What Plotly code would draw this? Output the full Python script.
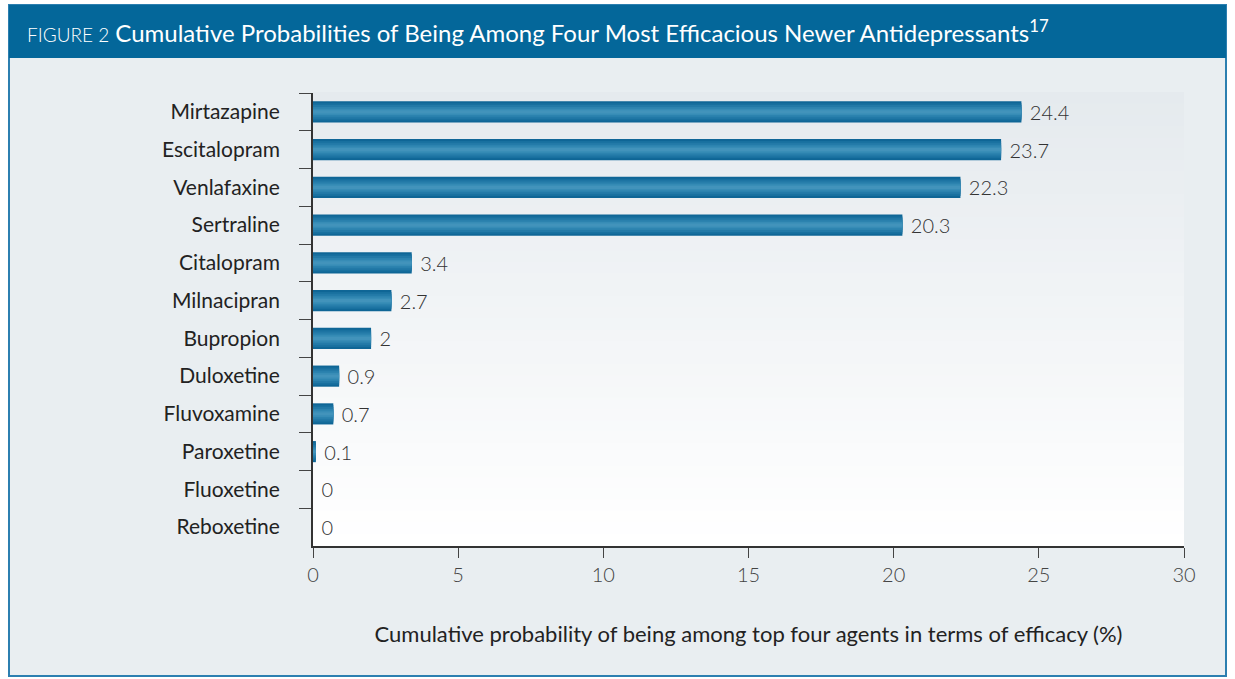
import plotly.graph_objects as go

drugs = ["Mirtazapine", "Escitalopram", "Venlafaxine", "Sertraline", "Citalopram",
         "Milnacipran", "Bupropion", "Duloxetine", "Fluvoxamine", "Paroxetine",
         "Fluoxetine", "Reboxetine"]
probs = [24.4, 23.7, 22.3, 20.3, 3.4, 2.7, 2, 0.9, 0.7, 0.1, 0, 0]
labels = ["24.4", "23.7", "22.3", "20.3", "3.4", "2.7", "2", "0.9", "0.7", "0.1", "0", "0"]
x_ticks = [0, 5, 10, 15, 20, 25, 30]

W, H = 1235, 679
L, R, T, B = 313, 1184, 93, 546
pw, ph = R - L, B - T

def px(x):
    return (x - L) / pw

def py(y):
    return (B - y) / ph

fig = go.Figure()
layers = [(0.56, "#0F6696"), (0.46, "#18709F"), (0.36, "#2279A7"),
          (0.26, "#2C83AF"), (0.17, "#378CB6"), (0.08, "#4293BB")]
for i, (w, col) in enumerate(layers):
    kw = {}
    if i == 0:
        kw = dict(text=["\u00a0" + t for t in labels], textposition="outside", cliponaxis=False,
                  constraintext="none",
                  textfont=dict(family="Lato", size=20, color="#333333", weight=300))
    fig.add_trace(go.Bar(y=drugs, x=probs, orientation="h", width=w,
                         marker=dict(color=col, line=dict(width=0)),
                         hoverinfo="skip", **kw))

shapes = []
shapes.append(dict(type="rect", xref="paper", yref="paper", x0=px(9), x1=px(1226), y0=py(676), y1=py(5),
                   fillcolor="#E9EEF1", line=dict(color="#2C7FB0", width=2), layer="below"))
shapes.append(dict(type="rect", xref="paper", yref="paper", x0=px(9), x1=px(1226), y0=py(58), y1=py(5),
                   fillcolor="#04679A", line=dict(width=0), layer="below"))
n = 40
c0 = (0xE5, 0xEA, 0xEE)
c1 = (0xFF, 0xFF, 0xFF)
for i in range(n):
    f = i / (n - 1)
    c = tuple(int(round(c0[k] + (c1[k] - c0[k]) * f)) for k in range(3))
    shapes.append(dict(type="rect", xref="paper", yref="paper", x0=0, x1=1,
                       y0=1 - (i + 1) / n, y1=1 - i / n + 0.002,
                       fillcolor="rgb(%d,%d,%d)" % c, line=dict(width=0), layer="below"))

fig.update_layout(
    width=W, height=H,
    margin=dict(l=L, r=W - R, t=T, b=H - B),
    paper_bgcolor="white", plot_bgcolor="rgba(0,0,0,0)",
    barmode="overlay", showlegend=False,
    shapes=shapes,
    xaxis=dict(range=[0, 30], tickvals=x_ticks, ticks="outside", ticklen=10, tickwidth=1,
               tickcolor="#444", showline=True, linecolor="#333", linewidth=2,
               showgrid=False, zeroline=False,
               tickfont=dict(family="Lato", size=20, color="#444", weight=300),
               title=dict(text="Cumulative probability of being among top four agents in terms of efficacy (%)",
                          font=dict(family="Lato", size=22, color="#222"), standoff=42)),
    yaxis=dict(autorange="reversed", ticks="outside", tickson="boundaries", ticklen=12, tickwidth=1,
               tickcolor="#444", showline=True, linecolor="#333", linewidth=2,
               showgrid=False, zeroline=False,
               tickfont=dict(family="Lato", size=21, color="#222"), ticksuffix="\u00a0\u00a0\u00a0\u00a0\u00a0"),
    annotations=[
        dict(xref="paper", yref="paper", x=px(25), y=py(31), xanchor="left", yanchor="middle",
             showarrow=False,
             text="<span style='font-size:19px;font-weight:300'>FIGURE 2</span> "
                  "Cumulative Probabilities of Being Among Four Most Efficacious Newer Antidepressants<sup>17</sup>",
             font=dict(family="Lato", size=24, color="white")),
    ],
)

fig.write_html("out.html")
